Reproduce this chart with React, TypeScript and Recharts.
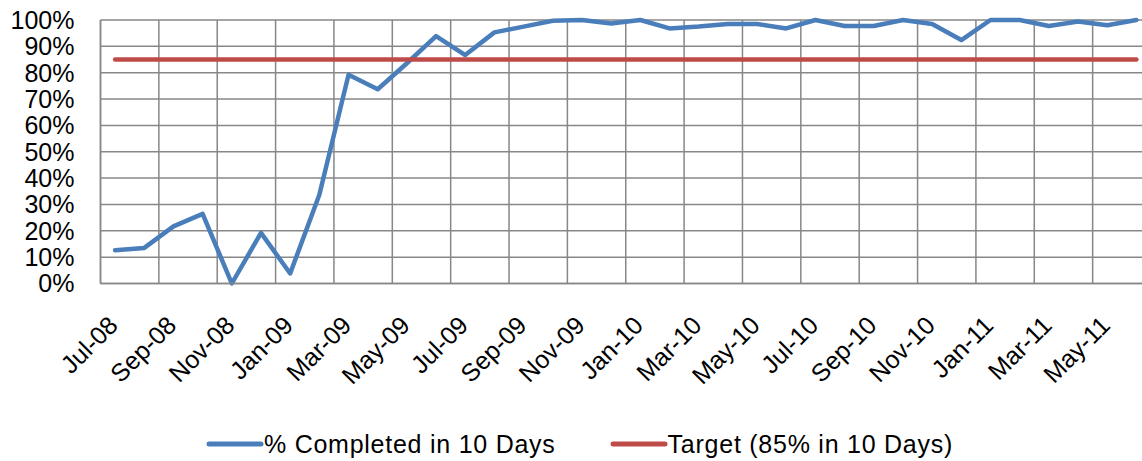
import { LineChart, Line, XAxis, YAxis, CartesianGrid, Legend } from 'recharts';

const months = [
  'Jul-08', 'Aug-08', 'Sep-08', 'Oct-08', 'Nov-08', 'Dec-08',
  'Jan-09', 'Feb-09', 'Mar-09', 'Apr-09', 'May-09', 'Jun-09',
  'Jul-09', 'Aug-09', 'Sep-09', 'Oct-09', 'Nov-09', 'Dec-09',
  'Jan-10', 'Feb-10', 'Mar-10', 'Apr-10', 'May-10', 'Jun-10',
  'Jul-10', 'Aug-10', 'Sep-10', 'Oct-10', 'Nov-10', 'Dec-10',
  'Jan-11', 'Feb-11', 'Mar-11', 'Apr-11', 'May-11', 'Jun-11',
];

// % completed within 10 days
const completed = [
  12.6, 13.5, 21.7, 26.4, 0, 19.2,
  3.8, 33.7, 79.2, 73.7, 83.6, 93.9,
  86.7, 95.3, 97.5, 99.7, 100, 98.7,
  100, 96.8, 97.5, 98.5, 98.5, 96.8,
  100, 97.7, 97.7, 100, 98.5, 92.4,
  100, 100, 97.7, 99.4, 98, 100,
];

const target = [
  85, 85, 85, 85, 85, 85, 85, 85, 85, 85, 85, 85,
  85, 85, 85, 85, 85, 85, 85, 85, 85, 85, 85, 85,
  85, 85, 85, 85, 85, 85, 85, 85, 85, 85, 85, 85,
];

const percentTicks = [0, 10, 20, 30, 40, 50, 60, 70, 80, 90, 100];

const series = [
  { key: 'completed', name: '% Completed in 10 Days', color: '#4A7EBB' },
  { key: 'target', name: 'Target (85% in 10 Days)', color: '#BE4B48' },
];

const data = months.map((month, i) => ({
  month,
  completed: completed[i],
  target: target[i],
}));

const FONT = '"Liberation Sans", Arial, sans-serif';
const GRID = '#878787';

function MonthTick({ x, y, payload }: any) {
  const tx = x - 2;
  return (
    <text
      x={tx}
      y={y}
      dy="0.36em"
      transform={`rotate(-45, ${tx}, ${y})`}
      textAnchor="end"
      fontSize={25}
      fontFamily={FONT}
      fill="#000"
    >
      {payload.value}
    </text>
  );
}

function ChartLegend() {
  return (
    <div
      style={{
        display: 'flex',
        justifyContent: 'center',
        alignItems: 'center',
        height: 34,
        gap: 54,
        paddingLeft: 8,
        fontFamily: FONT,
        fontSize: 25,
        letterSpacing: 0.75,
        color: '#000',
      }}
    >
      {series.map((s) => (
        <div key={s.key} style={{ display: 'flex', alignItems: 'center' }}>
          <svg width={58} height={10}>
            <line x1={3} y1={5} x2={55} y2={5} stroke={s.color} strokeWidth={5} strokeLinecap="round" />
          </svg>
          <span style={{ lineHeight: '34px' }}>{s.name}</span>
        </div>
      ))}
    </div>
  );
}

// gridlines sit on the category boundaries, one every two months
const monthBoundaries = ({ offset }: any) => {
  const step = offset.width / months.length;
  const xs: number[] = [];
  for (let k = 0; k <= months.length; k += 2) xs.push(offset.left + k * step);
  return xs;
};

export default function App() {
  return (
    <div style={{ position: 'absolute', left: 0, top: 0, width: 1142, height: 461, overflow: 'hidden', background: '#fff' }}>
      <LineChart
        width={1162}
        height={461}
        data={data}
        margin={{ top: 20, right: 11, left: 0, bottom: 0 }}
        style={{ fontFamily: FONT }}
      >
        <CartesianGrid
          stroke={GRID}
          strokeWidth={1.5}
          verticalCoordinatesGenerator={monthBoundaries}
        />
        <XAxis
          dataKey="month"
          scale="band"
          interval={1}
          height={143.5}
          tickLine={false}
          tickSize={0}
          tickMargin={37}
          axisLine={{ stroke: GRID, strokeWidth: 1.5 }}
          tick={<MonthTick />}
        />
        <YAxis
          width={100.5}
          domain={[0, 100]}
          ticks={percentTicks}
          interval={0}
          tickFormatter={(v: number) => `${v}%`}
          tickLine={false}
          tickSize={0}
          tickMargin={26}
          axisLine={{ stroke: GRID, strokeWidth: 1.5 }}
          tick={{ fontSize: 25, fill: '#000', fontFamily: FONT }}
        />
        <Legend verticalAlign="bottom" content={<ChartLegend />} />
        {series.map((s) => (
          <Line
            key={s.key}
            dataKey={s.key}
            name={s.name}
            stroke={s.color}
            strokeWidth={4.5}
            strokeLinecap="round"
            strokeLinejoin="round"
            dot={false}
            activeDot={false}
            isAnimationActive={false}
          />
        ))}
      </LineChart>
    </div>
  );
}
